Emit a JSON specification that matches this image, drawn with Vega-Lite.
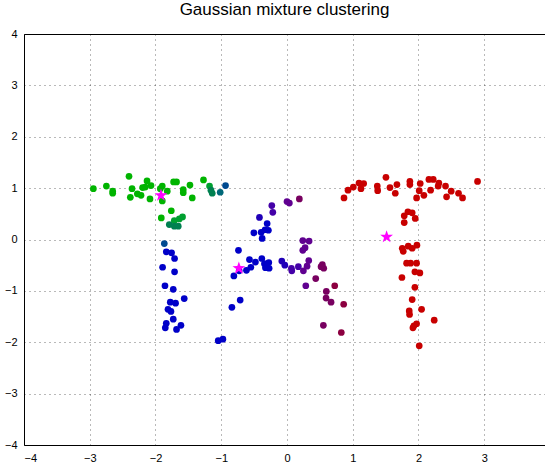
{
  "$schema": "https://vega.github.io/schema/vega-lite/v6.json",
  "autosize": {"type": "none"},
  "width": 521,
  "height": 411,
  "padding": {"left": 24, "top": 34, "right": 0, "bottom": 21},
  "title": {"text": "Gaussian mixture clustering", "fontSize": 17, "fontWeight": "normal", "color": "black", "offset": 9},
  "config": {"view": {"stroke": "#000000"}, "font": "Liberation Sans"},
  "data": {"values": [
      {"x": -2.945, "y": 0.99, "c": "g1"}, {"x": -2.747, "y": 1.04, "c": "g1"}, {"x": -2.651, "y": 0.94, "c": "g1"}, {"x": -2.651, "y": 0.90, "c": "g1"},
      {"x": -2.403, "y": 1.23, "c": "g1"}, {"x": -2.357, "y": 0.99, "c": "g1"}, {"x": -2.383, "y": 0.82, "c": "g1"}, {"x": -2.276, "y": 0.89, "c": "g1"},
      {"x": -2.220, "y": 0.86, "c": "g1"}, {"x": -2.196, "y": 1.01, "c": "g1"}, {"x": -2.155, "y": 1.02, "c": "g1"}, {"x": -2.129, "y": 1.14, "c": "g1"},
      {"x": -2.068, "y": 1.05, "c": "g1"}, {"x": -2.084, "y": 0.79, "c": "g1"}, {"x": -1.927, "y": 0.99, "c": "g1"}, {"x": -1.897, "y": 1.04, "c": "g1"},
      {"x": -1.897, "y": 0.75, "c": "g1"}, {"x": -1.821, "y": 0.94, "c": "g1"}, {"x": -1.725, "y": 1.12, "c": "g1"}, {"x": -1.680, "y": 1.12, "c": "g1"},
      {"x": -1.578, "y": 0.97, "c": "g1"}, {"x": -1.578, "y": 0.91, "c": "g1"}, {"x": -1.476, "y": 1.06, "c": "g1"}, {"x": -1.441, "y": 0.81, "c": "g1"},
      {"x": -1.270, "y": 1.16, "c": "g1"}, {"x": -1.178, "y": 1.04, "c": "g2"}, {"x": -1.157, "y": 0.96, "c": "g3"}, {"x": -1.137, "y": 0.90, "c": "g3"},
      {"x": -1.016, "y": 0.92, "c": "t1"}, {"x": -0.935, "y": 1.05, "c": "t2"},
      {"x": -1.760, "y": 0.56, "c": "g1"}, {"x": -1.912, "y": 0.42, "c": "g1"}, {"x": -1.714, "y": 0.37, "c": "g2"}, {"x": -1.638, "y": 0.40, "c": "g2"},
      {"x": -1.589, "y": 0.44, "c": "g2"}, {"x": -1.790, "y": 0.29, "c": "g3"}, {"x": -1.714, "y": 0.26, "c": "g3"}, {"x": -1.654, "y": 0.26, "c": "g3"},
      {"x": -1.866, "y": -0.08, "c": "t2"},
      {"x": -1.836, "y": -0.24, "c": "b1"}, {"x": -1.755, "y": -0.26, "c": "b1"}, {"x": -1.710, "y": -0.37, "c": "b1"}, {"x": -1.892, "y": -0.54, "c": "b1"},
      {"x": -1.710, "y": -0.63, "c": "b1"}, {"x": -1.856, "y": -0.90, "c": "b1"}, {"x": -1.730, "y": -0.97, "c": "b1"}, {"x": -1.563, "y": -1.15, "c": "b1"},
      {"x": -1.775, "y": -1.22, "c": "b1"}, {"x": -1.695, "y": -1.24, "c": "b1"}, {"x": -1.810, "y": -1.36, "c": "b1"}, {"x": -1.765, "y": -1.40, "c": "b1"},
      {"x": -1.730, "y": -1.55, "c": "b1"}, {"x": -1.836, "y": -1.63, "c": "b1"}, {"x": -1.851, "y": -1.72, "c": "b1"}, {"x": -1.613, "y": -1.67, "c": "b1"},
      {"x": -1.680, "y": -1.75, "c": "b1"},
      {"x": -1.046, "y": -1.97, "c": "b1"}, {"x": -0.975, "y": -1.94, "c": "b1"}, {"x": -0.712, "y": -1.18, "c": "b1"}, {"x": -0.838, "y": -1.32, "c": "b1"},
      {"x": -0.738, "y": -0.21, "c": "b1"}, {"x": -0.727, "y": -0.61, "c": "b1"}, {"x": -0.808, "y": -0.71, "c": "b1"}, {"x": -0.617, "y": -0.60, "c": "b1"},
      {"x": -0.571, "y": -0.39, "c": "b1"}, {"x": -0.480, "y": -0.44, "c": "b1"}, {"x": -0.550, "y": -0.54, "c": "b1"}, {"x": -0.383, "y": -0.37, "c": "b1"},
      {"x": -0.343, "y": -0.47, "c": "b1"}, {"x": -0.277, "y": -0.45, "c": "b1"}, {"x": -0.328, "y": -0.55, "c": "b1"}, {"x": -0.272, "y": -0.56, "c": "b1"},
      {"x": -0.231, "y": 0.66, "c": "p1"}, {"x": -0.216, "y": 0.53, "c": "p1"}, {"x": -0.419, "y": 0.43, "c": "b2"}, {"x": -0.302, "y": 0.31, "c": "b1"},
      {"x": -0.393, "y": 0.14, "c": "b1"}, {"x": -0.333, "y": 0.19, "c": "b1"}, {"x": -0.283, "y": 0.18, "c": "b1"}, {"x": -0.504, "y": 0.13, "c": "b1"},
      {"x": -0.378, "y": 0.02, "c": "b1"},
      {"x": 0.000, "y": 0.74, "c": "p2"}, {"x": 0.036, "y": 0.71, "c": "p2"}, {"x": 0.188, "y": 0.79, "c": "m1"},
      {"x": 0.240, "y": -0.02, "c": "p2"}, {"x": 0.336, "y": -0.03, "c": "p2"}, {"x": 0.240, "y": -0.21, "c": "p2"}, {"x": 0.275, "y": -0.16, "c": "p2"},
      {"x": -0.079, "y": -0.42, "c": "b2"}, {"x": -0.033, "y": -0.50, "c": "b2"}, {"x": 0.067, "y": -0.56, "c": "p1"}, {"x": 0.073, "y": -0.61, "c": "p1"},
      {"x": 0.173, "y": -0.53, "c": "p1"}, {"x": 0.249, "y": -0.61, "c": "p2"}, {"x": 0.305, "y": -0.52, "c": "p2"}, {"x": 0.331, "y": -0.41, "c": "p2"},
      {"x": 0.538, "y": -0.49, "c": "m1"}, {"x": 0.559, "y": -0.56, "c": "m1"}, {"x": 0.518, "y": -0.53, "c": "m1"}, {"x": 0.437, "y": -0.76, "c": "m1"},
      {"x": 0.286, "y": -0.90, "c": "p2"}, {"x": 0.598, "y": -1.01, "c": "m1"}, {"x": 0.594, "y": -1.14, "c": "m1"}, {"x": 0.670, "y": -1.22, "c": "m1"},
      {"x": 0.726, "y": -0.90, "c": "m2"}, {"x": 0.862, "y": -1.26, "c": "m2"}, {"x": 0.553, "y": -1.67, "c": "m1"}, {"x": 0.826, "y": -1.81, "c": "m2"},
      {"x": 0.867, "y": 0.81, "c": "r1"}, {"x": 0.928, "y": 0.96, "c": "r1"}, {"x": 1.009, "y": 1.02, "c": "r1"}, {"x": 1.095, "y": 1.10, "c": "r1"},
      {"x": 1.125, "y": 0.99, "c": "r1"}, {"x": 1.166, "y": 1.09, "c": "r1"}, {"x": 1.373, "y": 1.04, "c": "r1"}, {"x": 1.379, "y": 0.95, "c": "r1"},
      {"x": 1.505, "y": 1.21, "c": "r1"}, {"x": 1.566, "y": 1.01, "c": "r1"}, {"x": 1.672, "y": 1.07, "c": "r1"}, {"x": 1.647, "y": 0.90, "c": "r1"},
      {"x": 1.869, "y": 1.13, "c": "r1"}, {"x": 1.869, "y": 1.07, "c": "r1"}, {"x": 2.026, "y": 1.09, "c": "r1"}, {"x": 2.011, "y": 0.95, "c": "r1"},
      {"x": 1.971, "y": 0.81, "c": "r1"}, {"x": 2.082, "y": 0.86, "c": "r1"}, {"x": 2.158, "y": 1.17, "c": "r1"}, {"x": 2.224, "y": 1.17, "c": "r1"},
      {"x": 2.184, "y": 0.96, "c": "r1"}, {"x": 2.310, "y": 1.10, "c": "r1"}, {"x": 2.299, "y": 1.04, "c": "r1"}, {"x": 2.411, "y": 1.04, "c": "r1"},
      {"x": 2.427, "y": 0.83, "c": "r1"}, {"x": 2.497, "y": 0.94, "c": "r1"}, {"x": 2.609, "y": 0.90, "c": "r1"}, {"x": 2.670, "y": 0.81, "c": "r1"},
      {"x": 2.898, "y": 1.13, "c": "r1"},
      {"x": 1.839, "y": 0.54, "c": "r1"}, {"x": 1.904, "y": 0.52, "c": "r1"}, {"x": 1.783, "y": 0.46, "c": "r1"}, {"x": 1.950, "y": 0.41, "c": "r1"},
      {"x": 1.783, "y": 0.33, "c": "r1"},
      {"x": 1.753, "y": -0.17, "c": "r1"}, {"x": 1.768, "y": -0.23, "c": "r1"}, {"x": 1.844, "y": -0.13, "c": "r1"}, {"x": 1.904, "y": -0.17, "c": "r1"},
      {"x": 1.976, "y": -0.11, "c": "r1"}, {"x": 1.819, "y": -0.46, "c": "r1"}, {"x": 1.880, "y": -0.46, "c": "r1"}, {"x": 1.971, "y": -0.46, "c": "r1"},
      {"x": 1.945, "y": -0.63, "c": "r1"}, {"x": 2.021, "y": -0.65, "c": "r1"}, {"x": 1.748, "y": -0.74, "c": "r1"}, {"x": 1.945, "y": -0.93, "c": "r1"},
      {"x": 1.904, "y": -1.17, "c": "r1"}, {"x": 2.047, "y": -1.36, "c": "r1"}, {"x": 1.859, "y": -1.39, "c": "r1"}, {"x": 1.864, "y": -1.46, "c": "r1"},
      {"x": 2.239, "y": -1.57, "c": "r1"}, {"x": 1.971, "y": -1.64, "c": "r1"}, {"x": 1.930, "y": -1.68, "c": "r1"}, {"x": 1.915, "y": -1.72, "c": "r1"},
      {"x": 2.011, "y": -2.07, "c": "r1"},
      {"x": -1.917, "y": 0.86, "c": "zstar"}, {"x": -0.732, "y": -0.56, "c": "zstar"}, {"x": 1.515, "y": 0.05, "c": "zstar"}
  ]},
  "mark": {"type": "point", "filled": true, "opacity": 1},
  "encoding": {
    "x": {"field": "x", "type": "quantitative", "scale": {"domain": [-4, 3.924], "nice": false, "zero": false},
      "axis": {"title": null, "values": [-4, -3, -2, -1, 0, 1, 2, 3], "format": "d", "gridColor": "#000000", "gridDash": [1, 4], "gridOpacity": 0.55,
        "domain": false, "ticks": false, "labelPadding": 7, "labelFontSize": 11, "labelColor": "#000000"}},
    "y": {"field": "y", "type": "quantitative", "scale": {"domain": [-4, 4], "nice": false, "zero": false},
      "axis": {"title": null, "values": [-4, -3, -2, -1, 0, 1, 2, 3, 4], "format": "d", "gridColor": "#000000", "gridDash": [1, 4], "gridOpacity": 0.55,
        "domain": false, "ticks": false, "labelPadding": 7, "labelFontSize": 11, "labelColor": "#000000"}},
    "color": {"field": "c", "type": "nominal", "legend": null,
      "scale": {"domain": ["g1", "g2", "g3", "t1", "t2", "b1", "b2", "p1", "p2", "m1", "m2", "r1", "zstar"],
        "range": ["#00b400", "#00a030", "#008050", "#006878", "#004a90", "#0000c8", "#2000b8", "#4400a8", "#600090", "#780060", "#8c0040", "#c80000", "#ff00ff"]}},
    "shape": {"field": "c", "type": "nominal", "legend": null,
      "scale": {"domain": ["g1", "g2", "g3", "t1", "t2", "b1", "b2", "p1", "p2", "m1", "m2", "r1", "zstar"],
        "range": ["circle", "circle", "circle", "circle", "circle", "circle", "circle", "circle", "circle", "circle", "circle", "circle",
          "M0,-2L0.47,-0.648L1.902,-0.618L0.76,0.248L1.176,1.618L0,0.8L-1.176,1.618L-0.76,0.248L-1.902,-0.618L-0.47,-0.648Z"]}},
    "size": {"field": "c", "type": "nominal", "legend": null,
      "scale": {"domain": ["g1", "g2", "g3", "t1", "t2", "b1", "b2", "p1", "p2", "m1", "m2", "r1", "zstar"],
        "range": [45, 45, 45, 45, 45, 45, 45, 45, 45, 45, 45, 45, 100]}},
    "order": {"field": "c", "type": "nominal", "sort": "ascending"}
  }
}
